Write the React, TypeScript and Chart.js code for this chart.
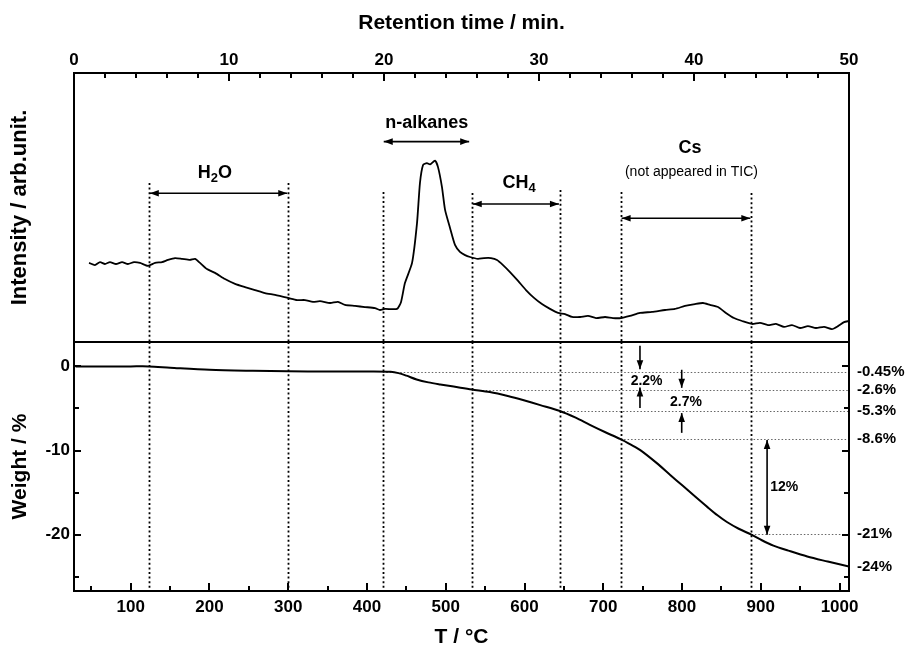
import React, { useEffect, useRef } from 'react';
import { Chart, registerables } from 'chart.js';

Chart.register(...registerables);

const FONT = '"Liberation Sans", Arial, Helvetica, sans-serif';

// ---- Top panel: total ion chromatogram (retention time / min vs intensity, arb. unit 0-100)
const retentionTime = [
  0.97, 1.35, 1.68, 2.0, 2.32, 2.71, 3.1, 3.48, 3.87, 4.26, 4.77, 5.23, 5.68, 6.06, 6.52, 6.97,
  7.48, 7.81, 8.13, 8.58, 9.1, 9.74, 10.39, 11.03, 11.68, 12.32, 12.97, 13.81, 14.39, 14.9, 15.42,
  15.87, 16.52, 17.03, 17.48, 18.13, 18.77, 19.42, 19.74, 20.06, 20.84, 21.1, 21.35, 21.81, 22.13,
  22.32, 22.52, 22.77, 22.97, 23.29, 23.48, 23.74, 23.94, 24.26, 24.58, 24.9, 25.23, 25.55,
  26.06, 26.45, 26.9, 27.29, 27.68, 28.13, 28.65, 29.16, 29.68, 30.19, 30.71, 31.23, 31.68, 32.13,
  32.65, 33.16, 33.68, 34.26, 34.77, 35.29, 35.87, 36.52, 37.29, 38.13, 38.77, 39.42, 40.06, 40.58,
  41.03, 41.55, 42.06, 42.58, 43.1, 43.74, 44.26, 44.77, 45.29, 45.81, 46.32, 46.84, 47.35, 47.87,
  48.39, 48.9, 49.29, 49.68, 50.0,
];
const intensity = [
  29.4, 28.6, 29.7, 29.0, 29.7, 29.0, 29.7, 29.0, 29.7, 29.4, 28.3, 29.4, 29.7, 30.5, 31.2, 30.9,
  30.5, 30.9, 29.4, 27.1, 25.7, 23.4, 21.6, 20.4, 19.3, 18.2, 17.5, 16.4, 15.6, 15.6, 14.9,
  15.2, 14.5, 14.9, 13.8, 13.4, 13.0, 12.6, 11.9, 12.3, 12.3, 14.9, 21.9, 29.4, 44.2,
  59.1, 65.8, 66.5, 66.0, 67.4, 65.1, 57.6, 49.1, 42.4, 36.1, 33.5, 32.3, 31.6,
  30.9, 31.2, 31.2, 30.5, 28.6, 26.0, 22.7, 19.3, 16.4, 14.1, 12.3, 10.8, 10.4, 9.3,
  9.3, 9.7, 8.9, 9.3, 8.9, 8.9, 9.7, 10.8, 11.2, 11.9, 12.3, 13.4, 14.1, 14.5,
  13.8, 13.0, 10.8, 8.9, 7.8, 6.7, 7.1, 6.3, 6.7, 5.6, 6.3, 5.2, 5.9, 5.2,
  5.6, 4.8, 5.9, 7.4, 7.8,
];

// ---- Bottom panel: TG curve (T / °C vs weight change / %)
const temperature = [
  30, 60, 100, 123, 150, 200, 255, 300, 350, 400, 430, 440, 450, 463, 478, 493, 510, 533, 556, 580,
  598, 620, 645, 665, 683, 702, 722, 735, 747, 768, 785, 801, 817, 832, 845, 857, 872, 888, 900, 916,
  935, 959, 985, 1012,
];
const weightChange = [
  0, 0, 0, 0, -0.15, -0.4, -0.52, -0.58, -0.6, -0.62, -0.65, -0.8, -1.1, -1.55, -1.9, -2.15, -2.4,
  -2.75, -3.05, -3.55, -4.0, -4.6, -5.3, -6.1, -6.95, -7.8, -8.65, -9.3, -9.95, -11.5, -12.9, -14.2,
  -15.5, -16.7, -17.7, -18.5, -19.3, -20.0, -20.6, -21.3, -21.9, -22.6, -23.2, -23.8,
];

// ---- Axes ticks
const retentionTicks = [0, 10, 20, 30, 40, 50];
const temperatureTicks = [100, 200, 300, 400, 500, 600, 700, 800, 900, 1000];
const temperatureMinorTicks = [50, 150, 250, 350, 450, 550, 650, 750, 850, 950];
const weightTicks = [-20, -10, 0];
const weightMinorTicks = [-25, -15, -5];

// ---- Annotations
const boundaryT = [123, 300, 420, 533, 645, 722, 888];
const boundaryTopI = [59.1, 59.1, 55.8, 55.4, 56.5, 55.8, 55.4];

const rangeFromT = [123, 420, 533, 722];
const rangeToT = [300, 531, 645, 888];
const rangeAtI = [55.3, 74.5, 51.3, 46.0];

const levelW = [-0.7, -2.8, -5.3, -8.65, -19.95, -23.8];
const levelStartT = [420, 533, 645, 722, 888, null];
const levelLabels = ['-0.45%', '-2.6%', '-5.3%', '-8.6%', '-21%', '-24%'];

const stepArrowT = [746.6, 746.6, 799.6, 799.6];
const stepArrowFromW = [2.45, -4.95, -0.4, -7.9];
const stepArrowToW = [-0.35, -2.5, -2.55, -5.55];
const stepLabels = ['2.2%', '2.7%', '12%'];
const stepLabelT = [755, 805, 912];
const stepLabelW = [-1.7, -4.2, -14.4];
const bigArrowT = 908;
const bigArrowW = [-8.75, -20.0];

type Part = [string, boolean];

function arrowHead(ctx: CanvasRenderingContext2D, fx: number, fy: number, tx: number, ty: number) {
  const ang = Math.atan2(ty - fy, tx - fx);
  const L = 9;
  const W = 3.3;
  const bx = tx - L * Math.cos(ang);
  const by = ty - L * Math.sin(ang);
  ctx.beginPath();
  ctx.moveTo(tx, ty);
  ctx.lineTo(bx + W * Math.sin(ang), by - W * Math.cos(ang));
  ctx.lineTo(bx - W * Math.sin(ang), by + W * Math.cos(ang));
  ctx.closePath();
  ctx.fill();
}

function arrow(ctx: CanvasRenderingContext2D, x1: number, y1: number, x2: number, y2: number, both: boolean) {
  ctx.save();
  ctx.strokeStyle = '#000';
  ctx.fillStyle = '#000';
  ctx.lineWidth = 1.6;
  ctx.setLineDash([]);
  ctx.beginPath();
  ctx.moveTo(x1, y1);
  ctx.lineTo(x2, y2);
  ctx.stroke();
  arrowHead(ctx, x1, y1, x2, y2);
  if (both) arrowHead(ctx, x2, y2, x1, y1);
  ctx.restore();
}

function drawParts(ctx: CanvasRenderingContext2D, parts: Part[], cx: number, cy: number, size: number, weight: string) {
  const mainFont = `${weight} ${size}px ${FONT}`;
  const subFont = `${weight} ${Math.round(size * 0.72)}px ${FONT}`;
  let total = 0;
  const widths = parts.map(([s, sub]) => {
    ctx.font = sub ? subFont : mainFont;
    const w = ctx.measureText(s).width;
    total += w;
    return w;
  });
  let x = cx - total / 2;
  ctx.textAlign = 'left';
  ctx.textBaseline = 'middle';
  ctx.fillStyle = '#000';
  parts.forEach(([s, sub], i) => {
    ctx.font = sub ? subFont : mainFont;
    ctx.fillText(s, x, sub ? cy + size * 0.32 : cy);
    x += widths[i];
  });
}

function drawBox(ctx: CanvasRenderingContext2D, a: any) {
  ctx.save();
  ctx.strokeStyle = '#000';
  ctx.lineWidth = 2;
  ctx.setLineDash([]);
  ctx.strokeRect(a.left, a.top, a.right - a.left, a.bottom - a.top);
  ctx.restore();
}

function dottedVertical(ctx: CanvasRenderingContext2D, x: number, y1: number, y2: number) {
  ctx.save();
  ctx.strokeStyle = '#000';
  ctx.lineWidth = 1.8;
  ctx.setLineDash([2, 2.6]);
  ctx.beginPath();
  ctx.moveTo(x, y1);
  ctx.lineTo(x, y2);
  ctx.stroke();
  ctx.restore();
}

const topPlugin = {
  id: 'topDecor',
  beforeDatasetsDraw(chart: any) {
    const { ctx, chartArea: a, scales } = chart;
    const xT = scales.xT;
    const yI = scales.yI;
    boundaryT.forEach((t, i) => {
      dottedVertical(ctx, Math.round(xT.getPixelForValue(t)) + 0.5, yI.getPixelForValue(boundaryTopI[i]), a.bottom);
    });
  },
  afterDatasetsDraw(chart: any) {
    const { ctx, chartArea: a, scales } = chart;
    const xR = scales.xR;
    const xT = scales.xT;
    const yI = scales.yI;
    drawBox(ctx, a);
    ctx.save();
    ctx.strokeStyle = '#000';
    ctx.lineWidth = 2;
    for (let v = 0; v <= 50; v += 2) {
      const x = Math.round(xR.getPixelForValue(v));
      const len = v % 10 === 0 ? 8 : 5;
      ctx.beginPath();
      ctx.moveTo(x, a.top);
      ctx.lineTo(x, a.top + len);
      ctx.stroke();
    }
    ctx.restore();

    rangeFromT.forEach((t1, i) => {
      const y = yI.getPixelForValue(rangeAtI[i]);
      arrow(ctx, xT.getPixelForValue(t1) + 1, y, xT.getPixelForValue(rangeToT[i]) - 1, y, true);
    });

    ctx.save();
    drawParts(ctx, [['H', false], ['2', true], ['O', false]], xT.getPixelForValue(207), yI.getPixelForValue(62.9), 18, 'bold');
    drawParts(ctx, [['n-alkanes', false]], xT.getPixelForValue(476), yI.getPixelForValue(81.4), 18, 'bold');
    drawParts(ctx, [['CH', false], ['4', true]], xT.getPixelForValue(593), yI.getPixelForValue(59.1), 18, 'bold');
    drawParts(ctx, [['Cs', false]], xT.getPixelForValue(810), yI.getPixelForValue(72.0), 18, 'bold');
    drawParts(ctx, [['(not appeared in TIC)', false]], xT.getPixelForValue(812), yI.getPixelForValue(63.3), 14, 'normal');
    ctx.restore();
  },
};

const bottomPlugin = {
  id: 'bottomDecor',
  beforeDatasetsDraw(chart: any) {
    const { ctx, chartArea: a, scales } = chart;
    const xT = scales.xT;
    const yW = scales.yW;
    boundaryT.forEach((t) => {
      dottedVertical(ctx, Math.round(xT.getPixelForValue(t)) + 0.5, a.top, a.bottom);
    });
    ctx.save();
    ctx.strokeStyle = '#666';
    ctx.lineWidth = 1.1;
    ctx.setLineDash([1.5, 2]);
    levelW.forEach((w, i) => {
      const t0 = levelStartT[i];
      if (t0 === null) return;
      const y = Math.round(yW.getPixelForValue(w)) + 0.5;
      ctx.beginPath();
      ctx.moveTo(xT.getPixelForValue(t0), y);
      ctx.lineTo(a.right, y);
      ctx.stroke();
    });
    ctx.restore();
  },
  afterDatasetsDraw(chart: any) {
    const { ctx, chartArea: a, scales } = chart;
    const xT = scales.xT;
    const yW = scales.yW;
    drawBox(ctx, a);
    ctx.save();
    ctx.strokeStyle = '#000';
    ctx.lineWidth = 2;
    const tick = (x1: number, y1: number, x2: number, y2: number) => {
      ctx.beginPath();
      ctx.moveTo(x1, y1);
      ctx.lineTo(x2, y2);
      ctx.stroke();
    };
    temperatureTicks.forEach((t) => {
      const x = Math.round(xT.getPixelForValue(t));
      tick(x, a.bottom, x, a.bottom - 8);
    });
    temperatureMinorTicks.forEach((t) => {
      const x = Math.round(xT.getPixelForValue(t));
      tick(x, a.bottom, x, a.bottom - 5);
    });
    weightTicks.forEach((w) => {
      const y = Math.round(yW.getPixelForValue(w));
      tick(a.left, y, a.left + 7, y);
      tick(a.right, y, a.right - 7, y);
    });
    weightMinorTicks.forEach((w) => {
      const y = Math.round(yW.getPixelForValue(w));
      tick(a.left, y, a.left + 5, y);
      tick(a.right, y, a.right - 5, y);
    });
    ctx.restore();

    stepArrowT.forEach((t, i) => {
      const x = xT.getPixelForValue(t);
      arrow(ctx, x, yW.getPixelForValue(stepArrowFromW[i]), x, yW.getPixelForValue(stepArrowToW[i]), false);
    });
    const bx = xT.getPixelForValue(bigArrowT);
    arrow(ctx, bx, yW.getPixelForValue(bigArrowW[0]), bx, yW.getPixelForValue(bigArrowW[1]), true);

    ctx.save();
    ctx.fillStyle = '#000';
    ctx.textBaseline = 'middle';
    ctx.font = `bold 14px ${FONT}`;
    stepLabels.forEach((s, i) => {
      ctx.textAlign = i === 2 ? 'left' : 'center';
      ctx.fillText(s, xT.getPixelForValue(stepLabelT[i]), yW.getPixelForValue(stepLabelW[i]));
    });
    ctx.font = `bold 15px ${FONT}`;
    ctx.textAlign = 'left';
    levelLabels.forEach((s, i) => {
      ctx.fillText(s, a.right + 8, yW.getPixelForValue(levelW[i]));
    });
    ctx.restore();
  },
};

export default function App() {
  const topRef = useRef<HTMLCanvasElement>(null);
  const botRef = useRef<HTMLCanvasElement>(null);

  useEffect(() => {
    Chart.defaults.font.family = FONT;
    Chart.defaults.color = '#000';

    const topChart = new Chart(topRef.current as HTMLCanvasElement, {
      type: 'line',
      data: {
        datasets: [
          {
            data: retentionTime.map((t, i) => ({ x: t, y: intensity[i] })),
            borderColor: '#000',
            borderWidth: 1.8,
            pointRadius: 0,
            tension: 0.2,
            borderJoinStyle: 'round',
            xAxisID: 'xR',
            yAxisID: 'yI',
          },
        ],
      },
      options: {
        responsive: false,
        animation: false,
        events: [],
        layout: { padding: { left: 0, right: 60, top: 0, bottom: 316 } },
        plugins: { legend: { display: false }, tooltip: { enabled: false } },
        scales: {
          xR: {
            type: 'linear',
            position: 'top',
            min: 0,
            max: 50,
            grid: { display: false, drawTicks: false },
            border: { display: false },
            afterBuildTicks: (s: any) => {
              s.ticks = retentionTicks.map((v) => ({ value: v }));
            },
            afterFit: (s: any) => {
              s.height = 73;
            },
            ticks: {
              autoSkip: false,
              maxRotation: 0,
              padding: 2,
              color: '#000',
              font: { size: 17, weight: 'bold', family: FONT },
              callback: (v: any) => String(v),
            },
            title: {
              display: true,
              text: 'Retention time / min.',
              color: '#000',
              font: { size: 21, weight: 'bold', family: FONT },
              padding: { top: 11, bottom: 0 },
            },
          },
          xT: {
            type: 'linear',
            position: 'bottom',
            display: false,
            min: 28,
            max: 1012,
          },
          yI: {
            type: 'linear',
            position: 'left',
            min: 0,
            max: 100,
            grid: { display: false, drawTicks: false },
            border: { display: false },
            ticks: { display: false },
            afterFit: (s: any) => {
              s.width = 74;
            },
            title: {
              display: true,
              text: 'Intensity / arb.unit.',
              color: '#000',
              font: { size: 22, weight: 'bold', family: FONT },
              padding: { top: 7, bottom: 0 },
            },
          },
        },
      } as any,
      plugins: [topPlugin],
    });

    const bottomChart = new Chart(botRef.current as HTMLCanvasElement, {
      type: 'line',
      data: {
        datasets: [
          {
            data: temperature.map((t, i) => ({ x: t, y: weightChange[i] })),
            borderColor: '#000',
            borderWidth: 2,
            pointRadius: 0,
            tension: 0.3,
            xAxisID: 'xT',
            yAxisID: 'yW',
          },
        ],
      },
      options: {
        responsive: false,
        animation: false,
        events: [],
        layout: { padding: { left: 0, right: 60, top: 342, bottom: 0 } },
        plugins: { legend: { display: false }, tooltip: { enabled: false } },
        scales: {
          xT: {
            type: 'linear',
            position: 'bottom',
            min: 28,
            max: 1012,
            grid: { display: false, drawTicks: false },
            border: { display: false },
            afterBuildTicks: (s: any) => {
              s.ticks = temperatureTicks.map((v) => ({ value: v }));
            },
            afterFit: (s: any) => {
              s.height = 67;
            },
            ticks: {
              autoSkip: false,
              maxRotation: 0,
              padding: 6,
              color: '#000',
              font: { size: 17, weight: 'bold', family: FONT },
              callback: (v: any) => String(v),
            },
            title: {
              display: true,
              text: 'T / °C',
              color: '#000',
              font: { size: 21, weight: 'bold', family: FONT },
              padding: { top: 0, bottom: 8 },
            },
          },
          yW: {
            type: 'linear',
            position: 'left',
            min: -26.7,
            max: 2.9,
            grid: { display: false, drawTicks: false },
            border: { display: false },
            afterBuildTicks: (s: any) => {
              s.ticks = weightTicks.map((v) => ({ value: v }));
            },
            afterFit: (s: any) => {
              s.width = 74;
            },
            ticks: {
              autoSkip: false,
              padding: 4,
              color: '#000',
              font: { size: 17, weight: 'bold', family: FONT },
              callback: (v: any) => String(v),
            },
            title: {
              display: true,
              text: 'Weight / %',
              color: '#000',
              font: { size: 21, weight: 'bold', family: FONT },
              padding: { top: 8, bottom: 0 },
            },
          },
        },
      } as any,
      plugins: [bottomPlugin],
    });

    return () => {
      topChart.destroy();
      bottomChart.destroy();
    };
  }, []);

  return (
    <div style={{ position: 'absolute', left: 0, top: 0, width: 909, height: 658, background: '#fff', overflow: 'hidden' }}>
      <canvas ref={topRef} width={909} height={658} style={{ position: 'absolute', left: 0, top: 0 }} />
      <canvas ref={botRef} width={909} height={658} style={{ position: 'absolute', left: 0, top: 0 }} />
    </div>
  );
}
